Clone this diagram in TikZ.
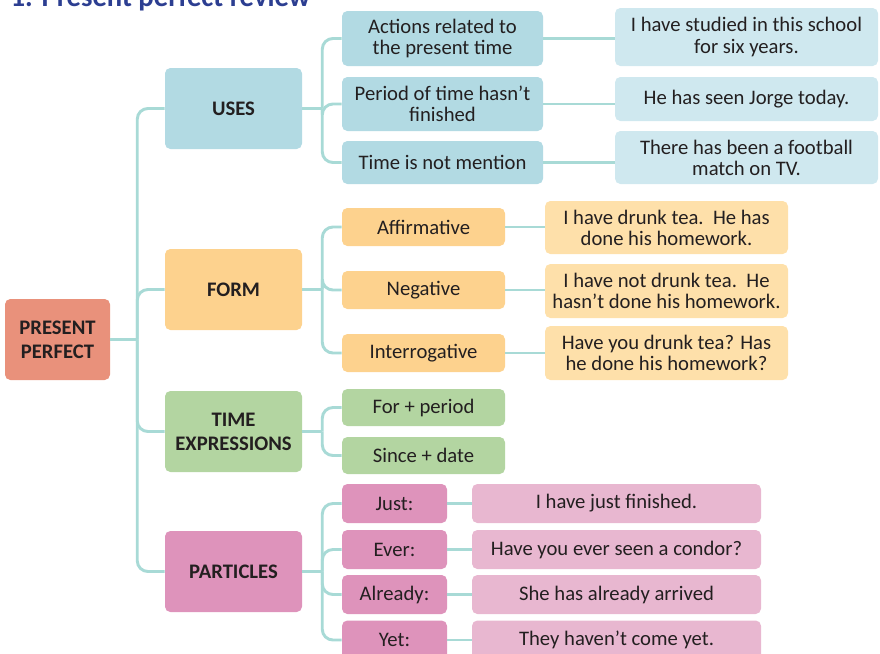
\documentclass[tikz,border=0pt]{standalone}
\usepackage{fontspec}
\setmainfont{Carlito}
\usepackage{xcolor}
\usepackage{tikz}
\usetikzlibrary{positioning}
\usetikzlibrary{calc}

\definecolor{ink}{RGB}{35,31,32}
\definecolor{titleblue}{RGB}{44,62,145}
\definecolor{linkteal}{RGB}{168,218,214}
\definecolor{rootred}{RGB}{233,145,123}
\definecolor{useblue}{RGB}{178,218,227}
\definecolor{useex}{RGB}{207,232,239}
\definecolor{formor}{RGB}{253,210,142}
\definecolor{formex}{RGB}{254,224,170}
\definecolor{timegr}{RGB}{179,213,161}
\definecolor{partpk}{RGB}{222,147,187}
\definecolor{partex}{RGB}{232,183,208}

\tikzset{
  box/.style={rectangle, rounded corners=4pt, inner sep=0pt, align=center, text=ink,
    font=\fontsize{15.5}{15.8}\selectfont},
  catbox/.style={box, minimum width=137*0.75pt, minimum height=81*0.75pt,
    font=\fontsize{15.5}{18}\selectfont\bfseries},
  link/.style={draw=linkteal, line width=2.2pt, rounded corners=8pt},
}

\begin{document}
\begin{tikzpicture}[x=0.75pt, y=-0.75pt]
  \clip (0,0) rectangle (880,653);
  \useasboundingbox (0,0) rectangle (880,653);

  \node[anchor=base west, text=titleblue, font=\fontsize{21.5}{24}\selectfont\bfseries] (title) at (6,7) {1. Present perfect review};

  % root and categories
  \node[catbox, fill=rootred, minimum width=105*0.75pt] (root) at (57.5,339.5) {PRESENT\\PERFECT};
  \node[catbox, fill=useblue] (uses) at (233.5,108.5) {USES};
  \node[catbox, fill=formor] (form) at (233.5,289.5) {FORM};
  \node[catbox, fill=timegr] (time) at (233.5,431.5) {TIME\\EXPRESSIONS};
  \node[catbox, fill=partpk] (part) at (233.5,571.5) {PARTICLES};

  % uses
  \node[box, fill=useblue, minimum width=201*0.75pt, minimum height=55*0.75pt] (u1) at (442.5,38.5) {Actions related to\\the present time};
  \node[box, fill=useblue, minimum width=201*0.75pt, minimum height=54*0.75pt] (u2) at (442.5,104) {Period of time hasn’t\\finished};
  \node[box, fill=useblue, minimum width=201*0.75pt, minimum height=43*0.75pt] (u3) at (442.5,162.5) {Time is not mention};
  \node[box, fill=useex, minimum width=263*0.75pt, minimum height=58*0.75pt] (ue1) at (746.5,37) {I have studied in this school\\for six years.};
  \node[box, fill=useex, minimum width=263*0.75pt, minimum height=44*0.75pt] (ue2) at (746.5,99) {He has seen Jorge today.};
  \node[box, fill=useex, minimum width=263*0.75pt, minimum height=53*0.75pt] (ue3) at (746.5,157.5) {There has been a football\\match on TV.};

  % form
  \node[box, fill=formor, minimum width=163*0.75pt, minimum height=38*0.75pt] (f1) at (423.5,227) {Affirmative};
  \node[box, fill=formor, minimum width=163*0.75pt, minimum height=38*0.75pt] (f2) at (423.5,290) {Negative};
  \node[box, fill=formor, minimum width=163*0.75pt, minimum height=38*0.75pt] (f3) at (423.5,353) {Interrogative};
  \node[box, fill=formex, minimum width=243*0.75pt, minimum height=53*0.75pt] (fe1) at (666.5,227.5) {I have drunk tea.\ \ He has\\done his homework.};
  \node[box, fill=formex, minimum width=243*0.75pt, minimum height=54*0.75pt] (fe2) at (666.5,291) {I have not drunk tea.\ \ He\\hasn’t done his homework.};
  \node[box, fill=formex, minimum width=243*0.75pt, minimum height=54*0.75pt] (fe3) at (666.5,353) {Have you drunk tea? Has\\he done his homework?};

  % time expressions
  \node[box, fill=timegr, minimum width=163*0.75pt, minimum height=37*0.75pt] (t1) at (423.5,407.5) {For + period};
  \node[box, fill=timegr, minimum width=163*0.75pt, minimum height=37*0.75pt] (t2) at (423.5,455.5) {Since + date};

  % particles
  \node[box, fill=partpk, minimum width=105*0.75pt, minimum height=39*0.75pt] (p1) at (394.5,503.5) {Just:};
  \node[box, fill=partpk, minimum width=105*0.75pt, minimum height=39*0.75pt] (p2) at (394.5,549.5) {Ever:};
  \node[box, fill=partpk, minimum width=105*0.75pt, minimum height=39*0.75pt] (p3) at (394.5,594.5) {Already:};
  \node[box, fill=partpk, minimum width=105*0.75pt, minimum height=39*0.75pt] (p4) at (394.5,640) {Yet:};
  \node[box, fill=partex, minimum width=289*0.75pt, minimum height=39*0.75pt] (pe1) at (616.5,503.5) {I have just finished.};
  \node[box, fill=partex, minimum width=289*0.75pt, minimum height=39*0.75pt] (pe2) at (616.5,549.5) {Have you ever seen a condor?};
  \node[box, fill=partex, minimum width=289*0.75pt, minimum height=39*0.75pt] (pe3) at (616.5,594.5) {She has already arrived};
  \node[box, fill=partex, minimum width=289*0.75pt, minimum height=39*0.75pt] (pe4) at (616.5,640) {They haven’t come yet.};

  % connectors
  \coordinate (hub) at ($(root.east)+(27,0)$);
  \draw[link] (root.east) -- (hub);
  \foreach \c in {uses,form,time,part}
    \draw[link] (hub) |- (\c.west);

  \coordinate (uhub) at ($(uses.east)+(20,0)$);
  \draw[link] (uses.east) -- (uhub);
  \foreach \c in {u1,u2,u3}
    \draw[link] (uhub) |- (\c.west);
  \foreach \a/\b in {u1/ue1,u2/ue2,u3/ue3}
    \draw[link] (\a.east) -- (\a.east -| \b.west);

  \coordinate (fhub) at ($(form.east)+(20,0)$);
  \draw[link] (form.east) -- (fhub);
  \foreach \c in {f1,f2,f3}
    \draw[link] (fhub) |- (\c.west);
  \foreach \a/\b in {f1/fe1,f2/fe2,f3/fe3}
    \draw[link] (\a.east) -- (\a.east -| \b.west);

  \coordinate (thub) at ($(time.east)+(20,0)$);
  \draw[link] (time.east) -- (thub);
  \foreach \c in {t1,t2}
    \draw[link] (thub) |- (\c.west);

  \coordinate (phub) at ($(part.east)+(20,0)$);
  \draw[link] (part.east) -- (phub);
  \foreach \c in {p1,p2,p3,p4}
    \draw[link] (phub) |- (\c.west);
  \foreach \a/\b in {p1/pe1,p2/pe2,p3/pe3,p4/pe4}
    \draw[link] (\a.east) -- (\a.east -| \b.west);
\end{tikzpicture}
\end{document}
